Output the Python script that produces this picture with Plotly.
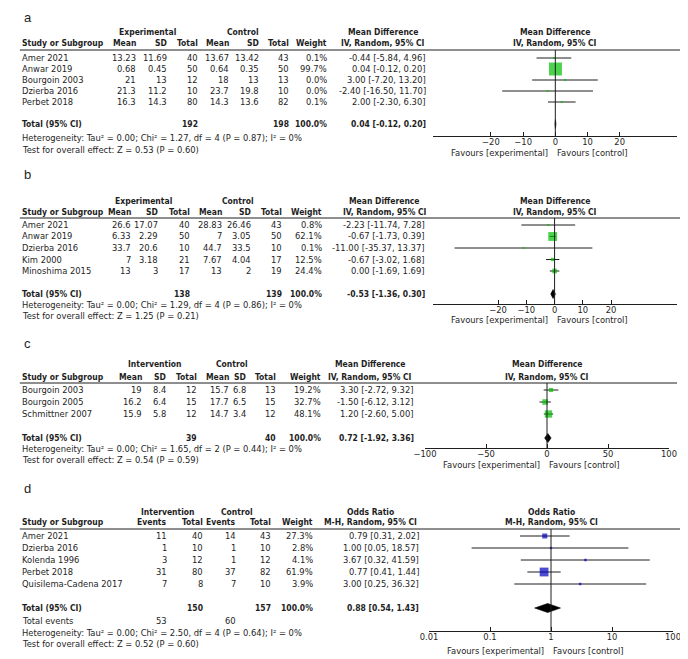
import plotly.graph_objects as go

#%% Data
# a - mean difference, experimental vs control
a_study = ["Amer 2021", "Anwar 2019", "Bourgoin 2003", "Dzierba 2016", "Perbet 2018"]
a_exp_mean = [13.23, 0.68, 21, 21.3, 16.3]
a_exp_sd = [11.69, 0.45, 13, 11.2, 14.3]
a_exp_n = [40, 50, 12, 10, 80]
a_ctl_mean = [13.67, 0.64, 18, 23.7, 14.3]
a_ctl_sd = [13.42, 0.35, 13, 19.8, 13.6]
a_ctl_n = [43, 50, 13, 10, 82]
a_weight = [0.1, 99.7, 0.0, 0.0, 0.1]
a_est = [-0.44, 0.04, 3.00, -2.40, 2.00]
a_lo = [-5.84, -0.12, -7.20, -16.50, -2.30]
a_hi = [4.96, 0.20, 13.20, 11.70, 6.30]
a_total = [0.04, -0.12, 0.20]
a_total_n = [192, 198]
a_het = "Heterogeneity: Tau² = 0.00; Chi² = 1.27, df = 4 (P = 0.87); I² = 0%"
a_test = "Test for overall effect: Z = 0.53 (P = 0.60)"

# b
b_study = ["Amer 2021", "Anwar 2019", "Dzierba 2016", "Kim 2000", "Minoshima 2015"]
b_exp_mean = [26.6, 6.33, 33.7, 7, 13]
b_exp_sd = [17.07, 2.29, 20.6, 3.18, 3]
b_exp_n = [40, 50, 10, 21, 17]
b_ctl_mean = [28.83, 7, 44.7, 7.67, 13]
b_ctl_sd = [26.46, 3.05, 33.5, 4.04, 2]
b_ctl_n = [43, 50, 10, 17, 19]
b_weight = [0.8, 62.1, 0.1, 12.5, 24.4]
b_est = [-2.23, -0.67, -11.00, -0.67, 0.00]
b_lo = [-11.74, -1.73, -35.37, -3.02, -1.69]
b_hi = [7.28, 0.39, 13.37, 1.68, 1.69]
b_total = [-0.53, -1.36, 0.30]
b_total_n = [138, 139]
b_het = "Heterogeneity: Tau² = 0.00; Chi² = 1.29, df = 4 (P = 0.86); I² = 0%"
b_test = "Test for overall effect: Z = 1.25 (P = 0.21)"

# c
c_study = ["Bourgoin 2003", "Bourgoin 2005", "Schmittner 2007"]
c_int_mean = [19, 16.2, 15.9]
c_int_sd = [8.4, 6.4, 5.8]
c_int_n = [12, 15, 12]
c_ctl_mean = [15.7, 17.7, 14.7]
c_ctl_sd = [6.8, 6.5, 3.4]
c_ctl_n = [13, 15, 12]
c_weight = [19.2, 32.7, 48.1]
c_est = [3.30, -1.50, 1.20]
c_lo = [-2.72, -6.12, -2.60]
c_hi = [9.32, 3.12, 5.00]
c_total = [0.72, -1.92, 3.36]
c_total_n = [39, 40]
c_het = "Heterogeneity: Tau² = 0.00; Chi² = 1.65, df = 2 (P = 0.44); I² = 0%"
c_test = "Test for overall effect: Z = 0.54 (P = 0.59)"

# d - odds ratio
d_study = ["Amer 2021", "Dzierba 2016", "Kolenda 1996", "Perbet 2018", "Quisilema-Cadena 2017"]
d_int_events = [11, 1, 3, 31, 7]
d_int_n = [40, 10, 12, 80, 8]
d_ctl_events = [14, 1, 1, 37, 7]
d_ctl_n = [43, 10, 12, 82, 10]
d_weight = [27.3, 2.8, 4.1, 61.9, 3.9]
d_est = [0.79, 1.00, 3.67, 0.77, 3.00]
d_lo = [0.31, 0.05, 0.32, 0.41, 0.25]
d_hi = [2.02, 18.57, 41.59, 1.44, 36.32]
d_total = [0.88, 0.54, 1.43]
d_total_n = [150, 157]
d_total_events = [53, 60]
d_het = "Heterogeneity: Tau² = 0.00; Chi² = 2.50, df = 4 (P = 0.64); I² = 0%"
d_test = "Test for overall effect: Z = 0.52 (P = 0.60)"

#%% Style / layout (pixels of the photographed window)
W, H = 688, 659
# where the figure lands in the photo: x = 20 + 0.971*p, y = 8 + p
OX, SX, OY = 20, 668, 8
FONT = "DejaVu Sans"
FONT_B = "DejaVu Sans Condensed, DejaVu Sans"
FS = 8.4
FS_B = 8.5
INK = "#1e1e1e"
GREEN = "#00bf00"
BLUE = "#0000bd"


def fx(p):
    return max(p - OX, 0.5) / SX


def fy(p):
    return 1 - (p - OY) / H


ann = []
shapes = []
layout_axes = {}
fig = go.Figure()


def txt(x, y, s, anchor="right", bold=False, size=None, family=None, vanchor="middle"):
    if bold:
        s = "<b>" + s + "</b>"
    if size is None:
        size = FS_B if bold else FS
    if family is None:
        family = FONT_B if bold else FONT
    ann.append(dict(x=fx(x), y=fy(y), xref="paper", yref="paper", text=s,
                    showarrow=False, xanchor=anchor, yanchor=vanchor, borderpad=0,
                    font=dict(family=family, size=size, color=INK)))


def ci_text(e, l, h):
    return "%.2f [%.2f, %.2f]" % (e, l, h)


def panel(k, L, label, study, columns, headers, groups, weight, est, lo, hi,
          total, total_n, het, test, eff_title, method, color, log=False, events=None):
    n = len(study)
    rows = [L["row0"] + i * L["dy"] for i in range(n)]
    ytot = L["row0"] + (n + 1) * L["dy"]
    cols = L["cols"]

    # panel letter (box top kept inside the figure)
    txt(23, max(L["lab"] - 8, OY + 0.5), label, anchor="left", size=13,
        family="Liberation Sans", vanchor="top")
    # headers
    for g, gx in zip(groups, L["grp"]):
        txt(gx, L["h1"], g, anchor="center", bold=True)
    txt(L["left"], L["h2"], "Study or Subgroup", anchor="left", bold=True)
    for h, cx in zip(headers, cols):
        txt(cx, L["h2"], h, bold=True)
    txt(L["eff"], L["h1"], eff_title, anchor="center", bold=True)
    txt(L["eff"], L["h2"], method, anchor="center", bold=True)
    pc = (L["dom"][0] + L["dom"][1]) / 2
    txt(pc, L["h1"], eff_title, anchor="center", bold=True)
    txt(pc, L["h2"], method, anchor="center", bold=True)
    shapes.append(dict(type="line", xref="paper", yref="paper", x0=fx(L["x0"]) - 0.001, x1=fx(L["x1"]),
                       y0=fy(L["hline"]), y1=fy(L["hline"]), line=dict(color=INK, width=1)))

    # study rows
    for i in range(n):
        txt(L["left"], rows[i], study[i], anchor="left")
        for c, cx in zip(columns, cols):
            txt(cx, rows[i], str(c[i]))
        txt(cols[len(columns)], rows[i], "%.1f%%" % weight[i])
        txt(L["ci"], rows[i], ci_text(est[i], lo[i], hi[i]))

    # total row
    tcols = [cols[1], cols[3]] if log else [cols[2], cols[5]]
    txt(L["left"], ytot, "Total (95% CI)", anchor="left", bold=True)
    txt(tcols[0], ytot, str(total_n[0]), bold=True)
    txt(tcols[1], ytot, str(total_n[1]), bold=True)
    txt(cols[len(columns)], ytot, "100.0%", bold=True)
    txt(L["ci"], ytot, ci_text(*total), bold=True)
    if events is not None:
        txt(L["left"], L["ev"], "Total events", anchor="left")
        txt(cols[0], L["ev"], str(events[0]))
        txt(cols[2], L["ev"], str(events[1]))
    txt(L["left"], L["het"], het, anchor="left")
    txt(L["left"], L["test"], test, anchor="left")

    # forest plot
    xa = "x" if k == 1 else "x%d" % k
    ya = "y" if k == 1 else "y%d" % k
    cx, cy = [], []
    for i in range(n):
        cx += [lo[i], hi[i], None]
        cy += [i, i, None]
    fig.add_trace(go.Scatter(x=cx, y=cy, mode="lines", xaxis=xa, yaxis=ya,
                             line=dict(color=INK, width=1), hoverinfo="skip"))
    fig.add_trace(go.Scatter(x=est, y=list(range(n)), mode="markers", xaxis=xa, yaxis=ya,
                             marker=dict(symbol="square", color=color,
                                         size=[2 + 11 * w / 100 for w in weight],
                                         line=dict(width=0))))
    hh = 4.5 / L["dy"]
    fig.add_trace(go.Scatter(x=[total[1], total[0], total[2], total[0], total[1]],
                             y=[n + 1, n + 1 - hh, n + 1, n + 1 + hh, n + 1],
                             mode="lines", fill="toself", fillcolor="black",
                             line=dict(color="black", width=0.6), xaxis=xa, yaxis=ya))
    null = 1 if log else 0
    shapes.append(dict(type="line", xref=xa, yref=ya + " domain", x0=null, x1=null, y0=0, y1=1,
                       line=dict(color=INK, width=1)))

    r0, r1 = L["rng"]
    if log:
        tv = [0.01, 0.1, 1, 10, 100]
        tt = ["0.01", "0.1", "1", "10", "100"]
    else:
        tv = L["ticks"]
        tt = [str(t).replace("-", "−") for t in tv]
    zpx = L["dom"][0] + (0 - r0) / (r1 - r0) * (L["dom"][1] - L["dom"][0])
    txt(zpx - 6, L["fav"], "Favours [experimental]")
    txt(zpx + 1, L["fav"], "Favours [control]", anchor="left")

    key = "" if k == 1 else str(k)
    layout_axes["xaxis" + key] = dict(
        domain=[fx(L["dom"][0]), fx(L["dom"][1])], anchor=ya, range=[r0, r1],
        type="log" if log else "linear", tickvals=tv, ticktext=tt, ticks="inside",
        ticklen=4, tickcolor=INK, showline=True, linecolor=INK, linewidth=1,
        ticklabelstandoff=-2,
        showgrid=False, zeroline=False, tickfont=dict(family=FONT, size=FS, color=INK))
    layout_axes["yaxis" + key] = dict(
        domain=[fy(L["axis"]), fy(L["hline"])], anchor=xa,
        range=[(L["axis"] - L["row0"]) / L["dy"], (L["hline"] - L["row0"]) / L["dy"]],
        visible=False, showgrid=False, zeroline=False)


#%% Panels
LA = dict(lab=11, h1=32, h2=43, hline=50, row0=58, dy=11, axis=136, left=16, x0=12, x1=683,
          cols=[137, 168, 199, 230, 260, 290, 328], ci=427, grp=[147, 243], eff=383,
          dom=(433, 677), rng=(-38, 37.8), ticks=[-20, -10, 0, 10, 20], fav=153, het=138, test=150)
panel(1, LA, "a", a_study, [a_exp_mean, a_exp_sd, a_exp_n, a_ctl_mean, a_ctl_sd, a_ctl_n],
      ["Mean", "SD", "Total", "Mean", "SD", "Total", "Weight"], ["Experimental", "Control"],
      a_weight, a_est, a_lo, a_hi, a_total, a_total_n, a_het, a_test,
      "Mean Difference", "IV, Random, 95% CI", GREEN)

LB = dict(lab=174, h1=201, h2=212, hline=218, row0=225, dy=11.5, axis=304, left=12, x0=10, x1=682,
          cols=[132, 159, 191, 223, 252, 283, 323], ci=426, grp=[143, 238], eff=385,
          dom=(433, 677), rng=(-43, 43.3), ticks=[-20, -10, 0, 10, 20], fav=320, het=305, test=316)
panel(2, LB, "b", b_study, [b_exp_mean, b_exp_sd, b_exp_n, b_ctl_mean, b_ctl_sd, b_ctl_n],
      ["Mean", "SD", "Total", "Mean", "SD", "Total", "Weight"], ["Experimental", "Control"],
      b_weight, b_est, b_lo, b_hi, b_total, b_total_n, b_het, b_test,
      "Mean Difference", "IV, Random, 95% CI", GREEN)

LC = dict(lab=343, h1=364, h2=377, hline=383, row0=390, dy=12, axis=448, left=18, x0=17, x1=677,
          cols=[143, 167, 198, 230, 247, 277, 322], ci=415, grp=[155, 232], eff=370,
          dom=(425, 669), rng=(-100, 100), ticks=[-100, -50, 0, 50, 100], fav=465, het=449, test=460)
panel(3, LC, "c", c_study, [c_int_mean, c_int_sd, c_int_n, c_ctl_mean, c_ctl_sd, c_ctl_n],
      ["Mean", "SD", "Total", "Mean", "SD", "Total", "Weight"], ["Intervention", "Control"],
      c_weight, c_est, c_lo, c_hi, c_total, c_total_n, c_het, c_test,
      "Mean Difference", "IV, Random, 95% CI", GREEN)

LD = dict(lab=488, h1=512, h2=522, hline=529, row0=536, dy=12, axis=631, left=18, x0=16, x1=682,
          cols=[168, 204, 237, 272, 314], ci=420, grp=[168, 237], eff=370,
          dom=(429, 673), rng=(-2, 2), fav=651, ev=621, het=633, test=644)
panel(4, LD, "d", d_study, [d_int_events, d_int_n, d_ctl_events, d_ctl_n],
      ["Events", "Total", "Events", "Total", "Weight"], ["Intervention", "Control"],
      d_weight, d_est, d_lo, d_hi, d_total, d_total_n, d_het, d_test,
      "Odds Ratio", "M-H, Random, 95% CI", BLUE, log=True, events=d_total_events)

fig.update_layout(width=W, height=H, margin=dict(l=0, r=0, t=0, b=0),
                  paper_bgcolor="white", plot_bgcolor="white", showlegend=False,
                  annotations=ann, shapes=shapes, **layout_axes)

fig.write_html("out.html")
